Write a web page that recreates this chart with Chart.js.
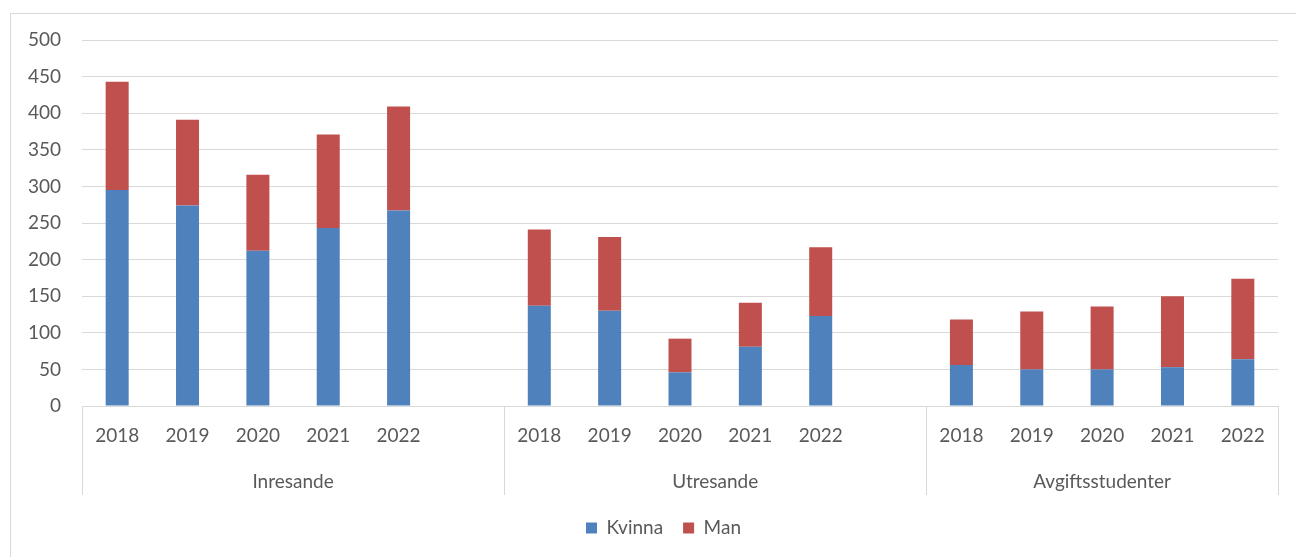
<!DOCTYPE html>
<html>
<head>
<meta charset="utf-8">
<script src="https://cdn.jsdelivr.net/npm/chart.js@4"></script>
<style>
  html, body { margin: 0; padding: 0; background: #fff; overflow: hidden; width: 1296px; height: 557px; }
  #frame { position: absolute; left: 10px; top: 13px; width: 1400px; height: 700px; border: 1px solid #d9d9d9; box-sizing: border-box; }
  #wrap { position: absolute; left: 0; top: 0; width: 1327px; height: 557px; }
</style>
</head>
<body>
<div id="frame"></div>
<div id="wrap"><canvas id="c" width="1327" height="557"></canvas></div>
<script>
// ---- data ----
const years = ['2018', '2019', '2020', '2021', '2022'];
const groups = ['Inresande', 'Utresande', 'Avgiftsstudenter'];
const kvinnaInresande = [295, 274, 212, 243, 267];
const kvinnaUtresande = [137, 130, 46, 81, 123];
const kvinnaAvgift = [56, 50, 50, 53, 64];
const manInresande = [148, 117, 104, 128, 142];
const manUtresande = [104, 101, 46, 60, 94];
const manAvgift = [62, 79, 86, 97, 110];
const yTicks = [0, 50, 100, 150, 200, 250, 300, 350, 400, 450, 500];

// ---- build category table (empty slot after each group except last) ----
const kvinnaByGroup = [kvinnaInresande, kvinnaUtresande, kvinnaAvgift];
const manByGroup = [manInresande, manUtresande, manAvgift];
const labels = [], kvinna = [], man = [];
const boundaries = [];      // slot index where each group starts
const groupTicks = [];      // {value, label}
groups.forEach((g, gi) => {
  const start = labels.length;
  boundaries.push(start);
  years.forEach((y, yi) => { labels.push(y); kvinna.push(kvinnaByGroup[gi][yi]); man.push(manByGroup[gi][yi]); });
  if (gi < groups.length - 1) { labels.push(''); kvinna.push(null); man.push(null); }
  const end = labels.length;
  groupTicks.push({ value: (start + end) / 2, label: g });
});
const nSlots = labels.length;
const sepValues = boundaries.concat([nSlots]);

const gray = '#d9d9d9';
const textColor = '#595959';
Chart.defaults.font.family = 'Lato';
Chart.defaults.font.size = 19;
Chart.defaults.color = textColor;

new Chart(document.getElementById('c'), {
  type: 'bar',
  data: {
    labels: labels,
    datasets: [
      { label: 'Kvinna', data: kvinna, backgroundColor: '#4F81BD', barPercentage: 0.327, categoryPercentage: 1 },
      { label: 'Man', data: man, backgroundColor: '#C0504D', barPercentage: 0.327, categoryPercentage: 1 }
    ]
  },
  options: {
    responsive: false,
    animation: false,
    events: [],
    layout: { padding: { left: 0, right: 0, top: 40, bottom: 9.5 } },
    plugins: {
      tooltip: { enabled: false },
      legend: {
        position: 'bottom',
        labels: { boxWidth: 11, boxHeight: 11, padding: 20, color: textColor, font: { size: 19 } }
      }
    },
    scales: {
      x: {
        stacked: true,
        offset: true,
        grid: {
          offset: true,
          drawOnChartArea: false,
          tickLength: 52,
          lineWidth: 1,
          color: c => (c.type !== 'tick' || boundaries.includes(c.index)) ? gray : 'rgba(0,0,0,0)'
        },
        border: { display: true, color: gray, width: 1 },
        ticks: { padding: -33.4, autoSkip: false, maxRotation: 0, color: textColor },
        afterFit: s => { s.height = 52; }
      },
      x2: {
        type: 'linear',
        position: 'bottom',
        min: 0,
        max: nSlots,
        offset: false,
        grid: {
          offset: false,
          drawOnChartArea: false,
          tickLength: 37,
          lineWidth: 1,
          color: c => (c.tick && sepValues.includes(c.tick.value)) ? gray : 'rgba(0,0,0,0)'
        },
        border: { display: false },
        afterBuildTicks: s => {
          const vals = sepValues.concat(groupTicks.map(t => t.value)).sort((a, b) => a - b);
          s.ticks = vals.map(v => ({ value: v }));
        },
        ticks: {
          padding: -24.4,
          autoSkip: false,
          maxRotation: 0,
          color: textColor,
          callback: v => { const t = groupTicks.find(g => g.value === v); return t ? t.label : ''; }
        },
        afterFit: s => { s.height = 40.5; }
      },
      y: {
        stacked: true,
        min: 0,
        max: 500,
        afterBuildTicks: s => { s.ticks = yTicks.map(v => ({ value: v })); },
        grid: { color: gray, lineWidth: 1, drawTicks: false },
        border: { display: false },
        ticks: { padding: 21, color: textColor },
        afterFit: s => { s.width = 82; }
      },
      yRight: {
        type: 'linear',
        position: 'right',
        min: 0,
        max: 1,
        grid: { display: false },
        border: { display: false },
        ticks: { display: false },
        afterFit: s => { s.width = 49; }
      }
    }
  }
});
</script>
</body>
</html>
